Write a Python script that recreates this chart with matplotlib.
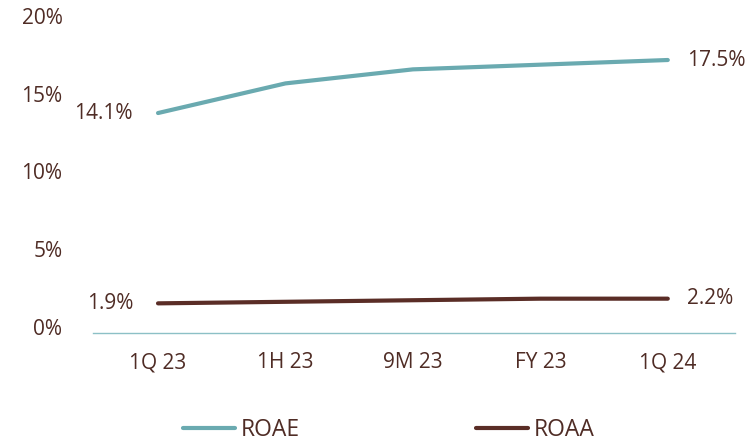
import matplotlib
matplotlib.use("Agg")
import matplotlib.pyplot as plt
import matplotlib.transforms as mtransforms

# ---------------------------------------------------------------------------
# Data
# ---------------------------------------------------------------------------
periods = ["1Q 23", "1H 23", "9M 23", "FY 23", "1Q 24"]
roae = [14.1, 16.0, 16.9, 17.2, 17.5]
roaa = [1.9, 2.0, 2.1, 2.2, 2.2]
y_ticks = [0, 5, 10, 15, 20]

TEXT = "#4f2c25"
ROAE_C = "#6aaab0"
ROAA_C = "#5a2d26"

plt.rcParams["font.family"] = ["Open Sans", "DejaVu Sans"]

fig = plt.figure(figsize=(7.46, 4.45), dpi=100)
ax = fig.add_axes([0.1247, 0.2517, 0.861, 0.7011])

x = list(range(len(periods)))
ax.plot(x, roae, color=ROAE_C, lw=3, solid_capstyle="round", label="ROAE")
ax.plot(x, roaa, color=ROAA_C, lw=3, solid_capstyle="round", label="ROAA")

# end labels
for series in (roae, roaa):
    ax.annotate(f"{series[0]:.1f}%", (x[0], series[0]), xytext=(-18, 0),
                textcoords="offset points", ha="right", va="center",
                fontsize=15, color=TEXT)
    ax.annotate(f"{series[-1]:.1f}%", (x[-1], series[-1]), xytext=(14, 0),
                textcoords="offset points", ha="left", va="center",
                fontsize=15, color=TEXT)

ax.set_xlim(-0.51, 4.53)
ax.set_ylim(0, 20)
ax.set_xticks(x)
ax.set_xticklabels(periods)
ax.set_yticks(y_ticks)
ax.set_yticklabels([f"{v}%" for v in y_ticks])
ax.tick_params(axis="both", length=0, labelsize=15, colors=TEXT)
ax.tick_params(axis="x", pad=14)
ax.tick_params(axis="y", pad=22)
shift = mtransforms.ScaledTranslation(0, 3 / 100, fig.dpi_scale_trans)
for lbl in ax.get_yticklabels():
    lbl.set_va("center")
    lbl.set_transform(lbl.get_transform() + shift)

for side in ("top", "right", "left"):
    ax.spines[side].set_visible(False)
ax.spines["bottom"].set_color("#8cc0c6")
ax.spines["bottom"].set_linewidth(1)

fig.legend(loc="lower center", bbox_to_anchor=(0.521, -0.04), ncol=2,
           frameon=False, fontsize=16.5, labelcolor=TEXT, handlelength=2.27,
           handletextpad=0.25, columnspacing=7.7)

fig.savefig("out.png", dpi=100)
